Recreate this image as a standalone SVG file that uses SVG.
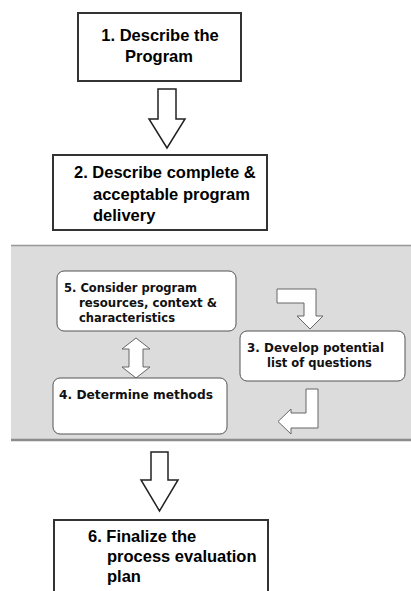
<svg xmlns="http://www.w3.org/2000/svg" width="411" height="591" viewBox="0 0 411 591">
<style>
.sq{fill:#fff;stroke:#333;stroke-width:2}
.rr{fill:#fff;stroke:#555;stroke-width:1}
.ta{font-family:"Liberation Sans",Arial,sans-serif;font-weight:bold;font-size:16.5px;fill:#000}
.tt{font-family:"DejaVu Sans",Tahoma,sans-serif;font-weight:bold;font-size:12.5px;fill:#111}
.big{fill:#fff;stroke:#222;stroke-width:1.5;stroke-linejoin:miter}
.sm{fill:#fff;stroke:#666;stroke-width:1;stroke-linejoin:miter}
</style>
<rect x="0" y="0" width="411" height="591" fill="#fff"/>
<g id="band">
<rect x="11" y="245" width="400" height="195" fill="#dcdcdc"/>
<line x1="11" y1="245.5" x2="411" y2="245.5" stroke="#999" stroke-width="1.5"/>
<line x1="11" y1="440" x2="411" y2="440" stroke="#8c8c8c" stroke-width="2.5"/>
</g>
<g id="connectors">
<polygon class="big" points="158,89 176,89 176,119 185,119 167,148 149,119 158,119"/>
<polygon class="sm" points="136,338 150,349 143,349 143,367 150,367 136,378 122,367 129,367 129,349 122,349"/>
<polygon class="sm" points="277,289 316,289 316,316 323,316 310,329 297,316 304,316 304,303 277,303"/>
<polygon class="sm" points="306,389 318,389 318,428 291,428 291,434 278,421.5 291,409 291,413 306,413"/>
<polygon class="big" points="151,452 168,452 168,480 178,480 159.5,511 141,480 151,480"/>
</g>
<g id="node1">
<rect class="sq" x="78" y="13" width="163" height="68"/>
<text class="ta" x="160" y="41" text-anchor="middle">1. Describe the</text>
<text class="ta" x="159" y="62" text-anchor="middle">Program</text>
</g>
<g id="node2">
<rect class="sq" x="53" y="155" width="214" height="75"/>
<text class="ta" x="74" y="178">2. Describe complete &amp;</text>
<text class="ta" x="93" y="200">acceptable program</text>
<text class="ta" x="93" y="221">delivery</text>
</g>
<g id="node5">
<rect class="rr" x="57" y="271" width="179" height="60" rx="7"/>
<text class="tt" x="64" y="292" textLength="133" lengthAdjust="spacingAndGlyphs">5. Consider program</text>
<text class="tt" x="79" y="307" textLength="138" lengthAdjust="spacingAndGlyphs">resources, context &amp;</text>
<text class="tt" x="79" y="322" textLength="96" lengthAdjust="spacingAndGlyphs">characteristics</text>
</g>
<g id="node3">
<rect class="rr" x="240" y="331" width="165" height="50" rx="7"/>
<text class="tt" x="247" y="352" textLength="137" lengthAdjust="spacingAndGlyphs">3.  Develop potential</text>
<text class="tt" x="267" y="367" textLength="105" lengthAdjust="spacingAndGlyphs">list of questions</text>
</g>
<g id="node4">
<rect class="rr" x="53" y="378" width="174" height="56" rx="7"/>
<text class="tt" x="59" y="399" textLength="154" lengthAdjust="spacingAndGlyphs">4.  Determine methods</text>
</g>
<g id="node6">
<rect class="sq" x="54" y="520" width="214" height="90"/>
<text class="ta" x="88" y="542">6. Finalize the</text>
<text class="ta" x="107" y="562">process evaluation</text>
<text class="ta" x="107" y="582">plan</text>
</g>
</svg>
